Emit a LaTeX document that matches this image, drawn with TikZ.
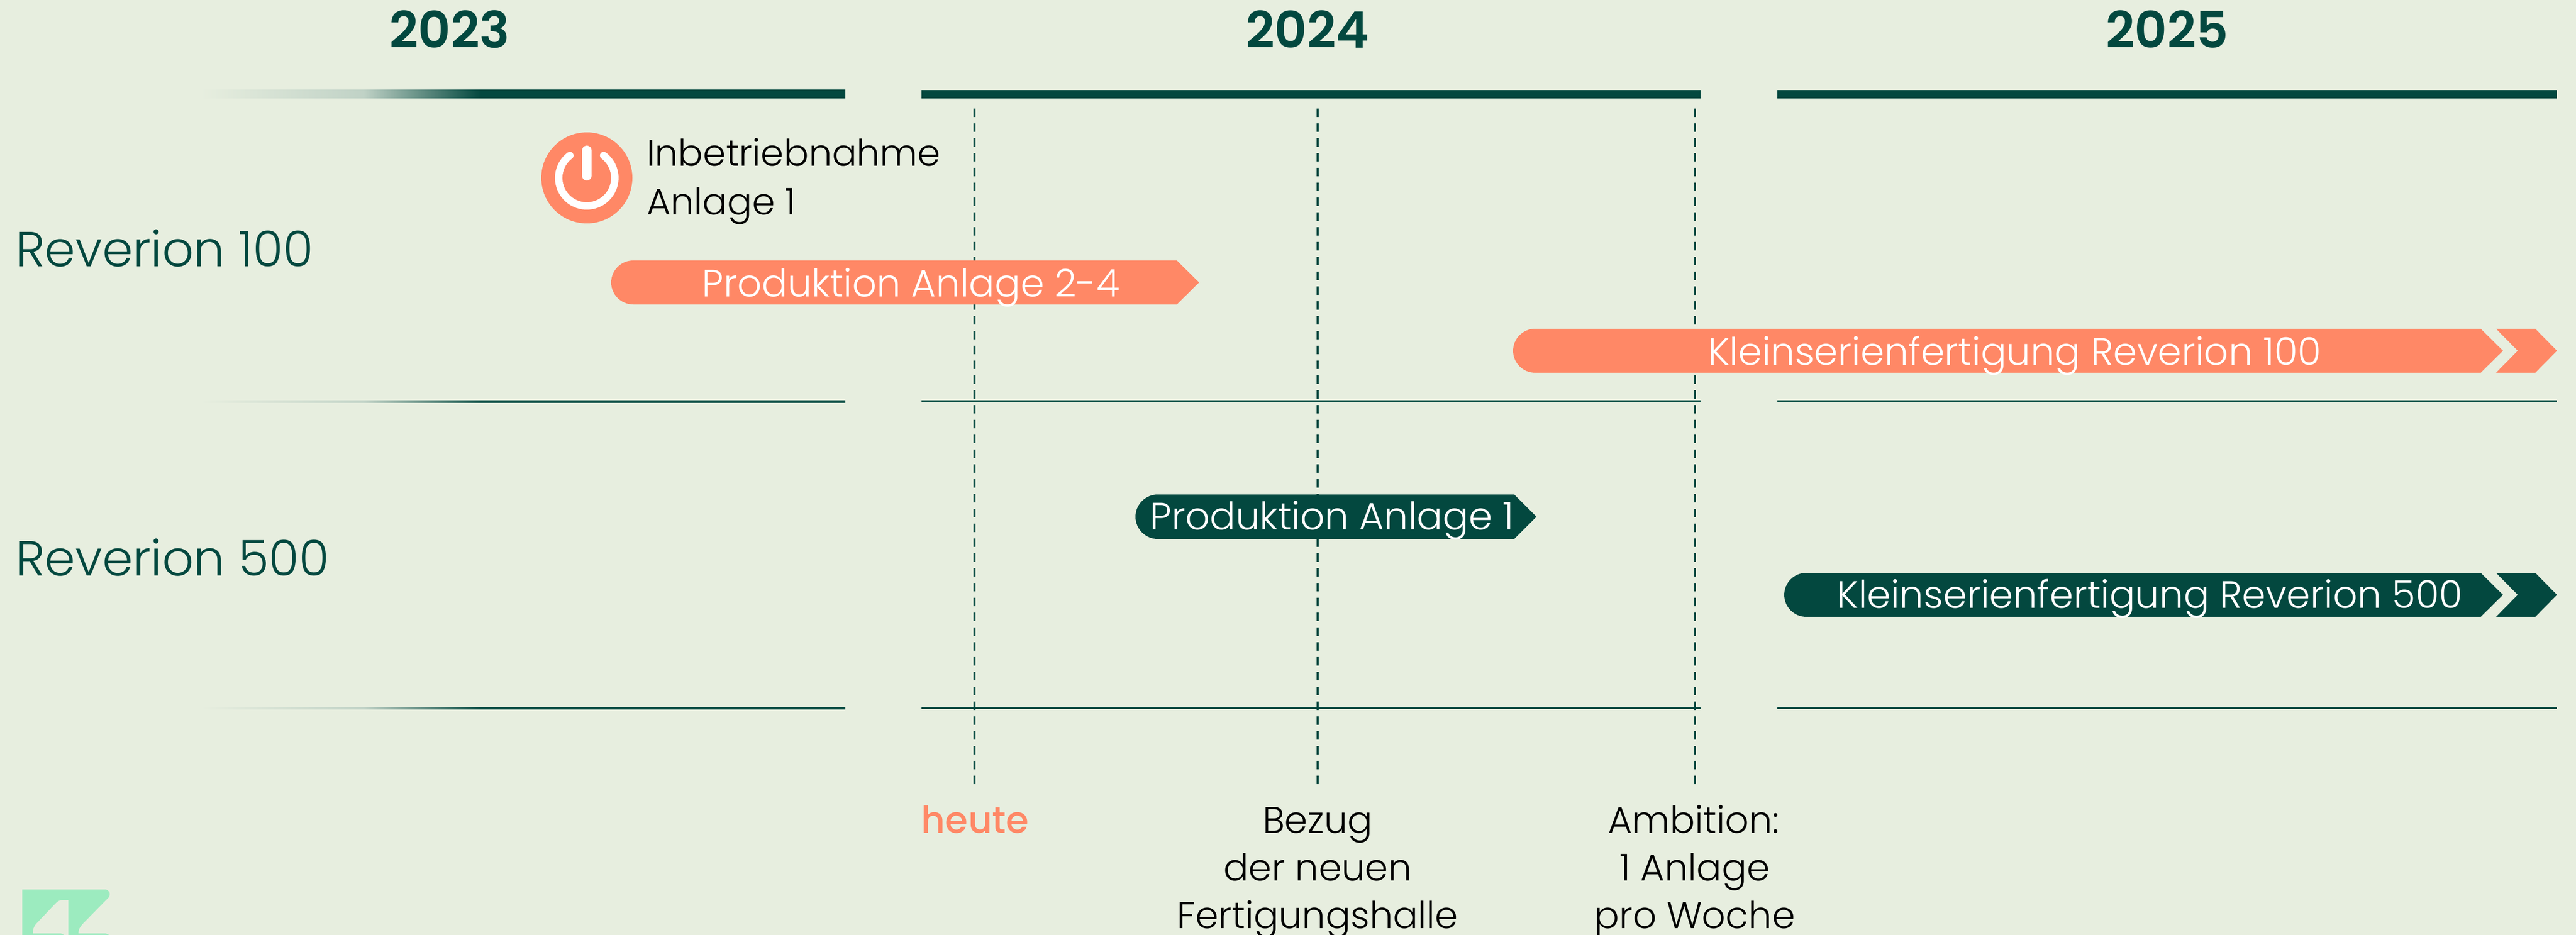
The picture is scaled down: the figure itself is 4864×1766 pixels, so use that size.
\documentclass[tikz,border=0pt]{standalone}
\usepackage{fontspec}
\setmainfont{Poppins Light}
\newfontfamily\semib{Poppins SemiBold}
\newfontfamily\medf{Poppins Medium}
\definecolor{bgc}{HTML}{E7EEDF}
\definecolor{darkg}{HTML}{03483F}
\definecolor{coral}{HTML}{FF8866}
\definecolor{mint}{HTML}{9CEBBF}
\definecolor{midg}{HTML}{C0D2C6}
\pgfdeclarehorizontalshading{fadebar}{100bp}{color(0bp)=(bgc); color(25bp)=(bgc); color(37.6bp)=(midg); color(46.7bp)=(darkg); color(100bp)=(darkg)}
\newcommand{\pbar}[5]{% colour, left, shoulder, centre y, half height
  \fill[#1] ({#2+#5},{#4-#5}) -- (#3,{#4-#5}) -- ({#3+42},#4) -- (#3,{#4+#5}) -- ({#2+#5},{#4+#5})
    .. controls ({#2+0.45*#5},{#4+#5}) and (#2,{#4+0.55*#5}) .. (#2,#4)
    .. controls (#2,{#4-0.55*#5}) and ({#2+0.45*#5},{#4-#5}) .. ({#2+#5},{#4-#5}) -- cycle;}
\newcommand{\ptail}[3]{% colour, start x, centre y
  \fill[#1] (#2,{#3-41.5}) -- ({#2+74},{#3-41.5}) -- ({#2+115},#3) -- ({#2+74},{#3+41.5}) -- (#2,{#3+41.5}) -- ({#2+41},#3) -- cycle;}
\tikzset{
  x=0.1pt,y=-0.1pt,
  yearlabel/.style={font=\semib\fontsize{9.5}{9.5}\selectfont,text=darkg,anchor=base,inner sep=0},
  rowlabel/.style={font=\fontsize{9.3}{9.3}\selectfont,text=darkg,anchor=base west,inner sep=0},
  barlabel/.style={font=\fontsize{7.2}{7.2}\selectfont,text=white,anchor=base,inner sep=0},
  notelabel/.style={font=\fontsize{7}{9}\selectfont,text=black,inner sep=0},
  guide/.style={draw=darkg,line width=0.35pt,dash pattern=on 1.6pt off 1.2pt},
  thickrule/.style={fill=darkg},
}
\begin{document}
\begin{tikzpicture}
\useasboundingbox (0,0) rectangle (4864,1766);
\fill[bgc] (0,0) rectangle (4864,1766);
% years
\node[yearlabel] (y23) at (849,91) {2023};
\node[yearlabel] (y24) at (2469,91) {2024};
\node[yearlabel] (y25) at (4092,91) {2025};
% thick rules
\shade[shading=fadebar] (380,170) rectangle (1596,186);
\fill[thickrule] (1740,170) rectangle (3211,186);
\fill[thickrule] (3356,170) rectangle (4828,186);
% thin rules
\foreach \yy in {756,1335}{
  \shade[shading=fadebar] (380,\yy) rectangle (1596,\yy+4);
  \fill[thickrule] (1740,\yy) rectangle (3211,\yy+4);
  \fill[thickrule] (3356,\yy) rectangle (4828,\yy+4);
}
% row labels
\node[rowlabel] (r100) at (28,504) {Reverion 100};
\node[rowlabel] (r500) at (28,1087) {Reverion 500};
% bottom notes
\node[font=\medf\fontsize{7}{9}\selectfont,text=coral,anchor=base,inner sep=0] (heute) at (1841,1573) {heute};
\node[notelabel,anchor=base] (bezug) at (2488,1573) {Bezug};
\node[notelabel,anchor=base] (bezug2) at (2488,1663) {der neuen};
\node[notelabel,anchor=base] (bezug3) at (2488,1753) {Fertigungshalle};
\node[notelabel,anchor=base] (amb) at (3198,1573) {Ambition:};
\node[notelabel,anchor=base] (amb2) at (3200,1663) {1 Anlage};
\node[notelabel,anchor=base] (amb3) at (3200,1753) {pro Woche};
% dashed guides
\coordinate (g1) at (1840,205);
\coordinate (g2) at (2488,205);
\coordinate (g3) at (3200,205);
\coordinate (e1) at (1840,1489);
\coordinate (e2) at (2488,1489);
\coordinate (e3) at (3200,1489);
\draw[guide] (g1) -- (e1);
\draw[guide] (g2) -- (e2);
\draw[guide] (g3) -- (e3);
% bars
\pbar{coral}{1154}{2222}{533.5}{41.5}
\pbar{coral}{2857}{4684}{662.5}{41.5}
\ptail{coral}{4713}{662.5}
\pbar{darkg}{2144}{2859}{976}{42}
\pbar{darkg}{3369}{4684}{1123.5}{41.5}
\ptail{darkg}{4713}{1123.5}
\node[barlabel] (b1) at (1720,560) {Produktion Anlage 2-4};
\node[barlabel] (b2) at (3804,689) {Kleinserienfertigung Reverion 100};
\node[barlabel] (b3) at (2515,1000) {Produktion Anlage 1};
\node[barlabel] (b4) at (4059,1148) {Kleinserienfertigung Reverion 500};
% power icon
\fill[coral] (1108,336) circle[radius=8.6pt];
\draw[white,line width=1.4pt,line cap=round] (1076,293.7) arc[start angle=127,delta angle=286,radius=5.3pt];
\draw[white,line width=1.8pt,line cap=round] (1108,284) -- (1108,332);
\node[notelabel,anchor=base west,font=\fontsize{6.95}{9}\selectfont] (ib1) at (1219,314) {Inbetriebnahme};
\node[notelabel,anchor=base west,font=\fontsize{6.95}{9}\selectfont] (ib2) at (1219,406) {Anlage 1};
% logo
\fill[mint] (42,1680) -- (198,1680) .. controls (206,1680) and (210,1688) .. (205,1695) -- (156,1745) .. controls (150,1752) and (148,1756) .. (148,1763) -- (200,1763) -- (206,1766) -- (129,1766) -- (129,1700) -- (118,1700) .. controls (112,1700) and (109,1702) .. (105,1706) -- (68,1745) .. controls (63,1751) and (62,1756) .. (62,1763) -- (115,1763) -- (121,1766) -- (42,1766) -- cycle;
\end{tikzpicture}
\end{document}
